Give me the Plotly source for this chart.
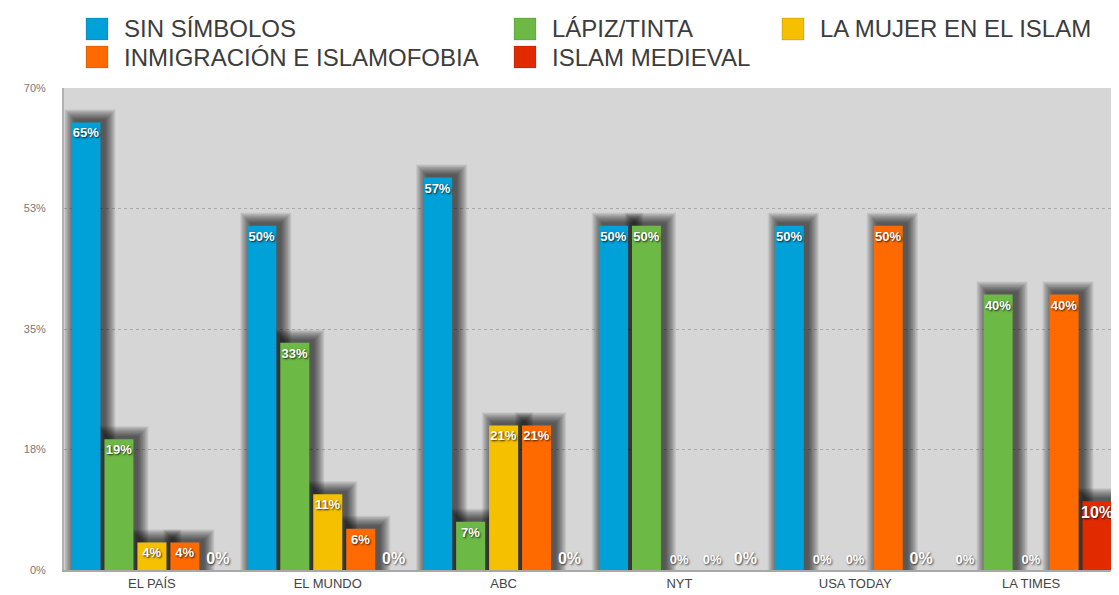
import plotly.graph_objects as go

categories = ["EL PAÍS", "EL MUNDO", "ABC", "NYT", "USA TODAY", "LA TIMES"]
series_names = ["SIN SÍMBOLOS", "LÁPIZ/TINTA", "LA MUJER EN EL ISLAM",
                "INMIGRACIÓN E ISLAMOFOBIA", "ISLAM MEDIEVAL"]
sin_simbolos = [65, 50, 57, 50, 50, 0]
lapiz_tinta = [19, 33, 7, 50, 0, 40]
mujer_islam = [4, 11, 21, 0, 0, 0]
inmigracion = [4, 6, 21, 0, 50, 40]
islam_medieval = [0, 0, 0, 0, 0, 10]
series_values = [sin_simbolos, lapiz_tinta, mujer_islam, inmigracion, islam_medieval]
colors = ["#00a0d8", "#6cba45", "#f5c000", "#ff6a00", "#e22a00"]
tick_vals = [0, 17.5, 35, 52.5, 70]
tick_text = ["0%", "18%", "35%", "53%", "70%"]

OFF = 8  # page body margin
W, H = 1119 - OFF, 595 - OFF
ML, MR, MT, MB = 64 - OFF, 0, 88 - OFF, 25
PW, PH = W - ML - MR, H - MT - MB
XU = 6.0 / PW      # data units per px (x)
YU = 70.0 / PH     # data units per px (y)

slot = 0.9375 / 5
bw = slot * 0.88
start = -0.46875

fig = go.Figure()

# soft drop shadows (drawn first)
NL = 16
for i, vals in enumerate(series_values):
    off = start + i * slot + (slot - bw) / 2
    for j in range(1, NL + 1):
        e = j * 0.7
        dx, dy = 4, 2
        yv = [v + (dy + e) * YU if v > 0 else None for v in vals]
        fig.add_trace(go.Bar(
            x=categories, y=yv, base=0,
            offset=off + (dx - e) * XU, width=bw + 2 * e * XU,
            marker=dict(color="rgba(0,0,0,0.05)", line=dict(width=0)),
            showlegend=False, hoverinfo="skip"))

for i, (name, vals) in enumerate(zip(series_names, series_values)):
    off = start + i * slot + (slot - bw) / 2
    size = 16 if i == 4 else 13
    fig.add_trace(go.Bar(
        name=name, x=categories, y=vals,
        offset=off, width=bw,
        marker=dict(color=colors[i], line=dict(width=0)),
        text=[f"{v}%" for v in vals],
        textposition=["inside" if v > 0 else "outside" for v in vals],
        insidetextanchor="end",
        textangle=0,
        constraintext="none",
        cliponaxis=False,
        textfont=dict(color="white", size=size, family="Liberation Sans, Arial",
                      weight="bold", shadow="1px 1px 2px rgba(0,0,0,0.8)"),
        outsidetextfont=dict(color="white", size=size, family="Liberation Sans, Arial",
                             weight="bold", shadow="1px 1px 2px rgba(0,0,0,0.7)"),
        showlegend=False))

# manual legend (layout decoration)
def px(xp):
    return (xp - OFF - ML) / PW

def py(yp):
    return (H - MB - (yp - OFF)) / PH

legend_pos = [(86, 29), (514, 29), (782, 29), (86, 57), (514, 57)]
shapes = []
annotations = []
for (lx, ly), name, c in zip(legend_pos, series_names, colors):
    shapes.append(dict(type="rect", xref="paper", yref="paper",
                       x0=px(lx), x1=px(lx + 22), y0=py(ly - 11), y1=py(ly + 11),
                       fillcolor=c, line=dict(color="rgba(0,0,0,0.15)", width=1)))
    annotations.append(dict(xref="paper", yref="paper", x=px(lx + 36), y=py(ly),
                            text=name, showarrow=False, xanchor="left", yanchor="middle",
                            font=dict(size=24, color="#3c3c3c",
                                      family="Liberation Sans, Arial")))

fig.update_layout(
    width=W, height=H,
    margin=dict(l=ML, r=MR, t=MT, b=MB, pad=0),
    barmode="overlay",
    plot_bgcolor="#d6d6d6",
    paper_bgcolor="white",
    shapes=shapes,
    annotations=annotations,
    font=dict(family="Liberation Sans, Arial"),
)
fig.update_xaxes(range=[-0.5, 5.5], showline=True, linecolor="#a8a8a8", linewidth=2,
                 showgrid=False, ticks="", tickfont=dict(size=13, color="#444"))
fig.update_yaxes(range=[0, 70], tickvals=tick_vals, ticktext=tick_text,
                 showline=True, linecolor="#b0b0b0", linewidth=2,
                 showgrid=True, gridcolor="#aaaaaa", griddash="dot", gridwidth=1,
                 zeroline=False, ticks="", ticklabelstandoff=14,
                 tickfont=dict(size=11, color="#777"))

fig.write_html("out.html")
